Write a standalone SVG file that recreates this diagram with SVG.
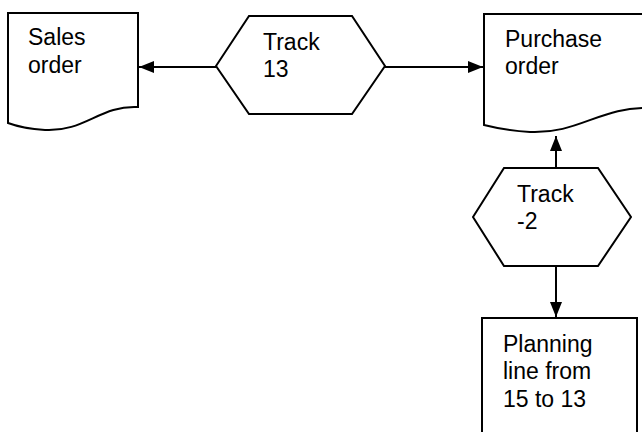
<svg xmlns="http://www.w3.org/2000/svg" width="642" height="432" viewBox="0 0 642 432">
  <style>
    .shape { fill: #ffffff; stroke: #000000; stroke-width: 2; stroke-linejoin: miter; }
    .label { font-family: "Liberation Sans", Arial, sans-serif; font-size: 23px; fill: #000000; }
    .conn { fill: none; stroke: #000000; stroke-width: 2; marker-end: url(#arrow); }
  </style>
  <defs>
    <marker id="arrow" viewBox="0 0 15 12" refX="15" refY="6" markerWidth="15" markerHeight="12" markerUnits="userSpaceOnUse" orient="auto">
      <path d="M0,0 L15,6 L0,12 Z" fill="#000000"/>
    </marker>
  </defs>
  <rect width="642" height="432" fill="#ffffff"/>

  <!-- connectors -->
  <g id="connectors">
    <line class="conn" x1="216" y1="67" x2="139" y2="67"/>
    <line class="conn" x1="385" y1="67" x2="483" y2="67"/>
    <line class="conn" x1="556" y1="168" x2="556" y2="136"/>
    <line class="conn" x1="556" y1="266" x2="556" y2="317"/>
  </g>

  <g id="sales-order">
    <path class="shape" d="M8,13 H138 V107 C100,105 85,132 45,130 C30,129 16,126 8,123 Z"/>
    <text class="label" x="28" y="45">Sales</text>
    <text class="label" x="28" y="73">order</text>
  </g>

  <g id="track-13">
    <polygon class="shape" points="216,66 249,16 352,16 385,66 352,114 249,114"/>
    <text class="label" x="263" y="50">Track</text>
    <text class="label" x="263" y="77">13</text>
  </g>

  <g id="purchase-order">
    <path class="shape" d="M484,14 H652 V108 C600,106 580,134 530,132 C510,131 496,128 484,125 Z"/>
    <text class="label" x="505" y="47">Purchase</text>
    <text class="label" x="505" y="74">order</text>
  </g>

  <g id="track-minus-2">
    <polygon class="shape" points="473,217 504,168 598,168 631,217 598,266 504,266"/>
    <text class="label" x="517" y="202">Track</text>
    <text class="label" x="517" y="229">-2</text>
  </g>

  <g id="planning-line">
    <rect class="shape" x="482" y="318" width="155" height="124"/>
    <text class="label" x="503" y="352">Planning</text>
    <text class="label" x="503" y="379">line from</text>
    <text class="label" x="503" y="407">15 to 13</text>
  </g>
</svg>
